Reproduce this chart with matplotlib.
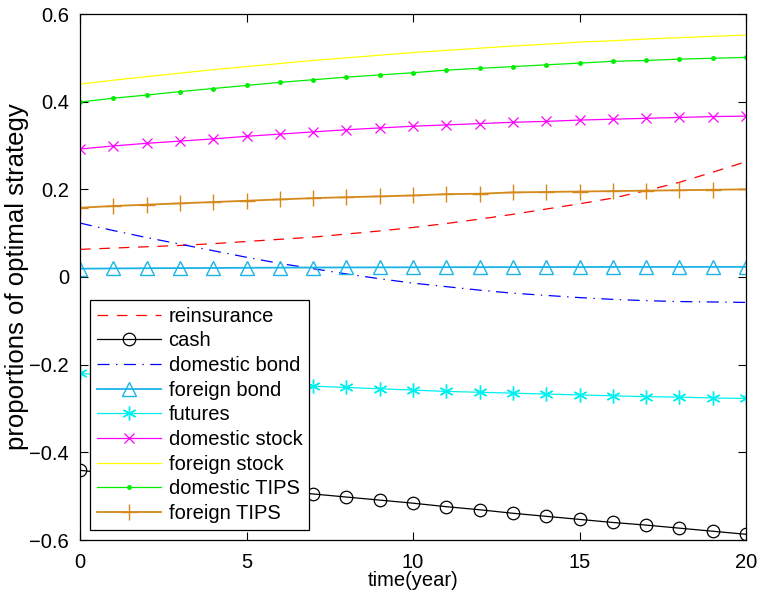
import matplotlib
matplotlib.use("Agg")
import matplotlib.pyplot as plt
from matplotlib import font_manager

names = {f.name for f in font_manager.fontManager.ttflist}
if 'Liberation Sans Narrow' in names:
    MAIN = ['Liberation Sans Narrow', 'DejaVu Sans']
    FS = 17
else:
    MAIN = ['Liberation Sans', 'DejaVu Sans']
    FS = 14.5
plt.rcParams['font.family'] = MAIN

t = list(range(21))
reinsurance = [0.063, 0.066, 0.069, 0.072, 0.076, 0.081, 0.086, 0.091, 0.098, 0.105, 0.113,
               0.122, 0.132, 0.143, 0.155, 0.167, 0.180, 0.197, 0.216, 0.239, 0.263]
cash = [-0.441, -0.449, -0.457, -0.465, -0.473, -0.480, -0.488, -0.495, -0.502, -0.509, -0.516,
        -0.524, -0.531, -0.539, -0.546, -0.553, -0.560, -0.566, -0.573, -0.580, -0.587]
domestic_bond = [0.123, 0.106, 0.090, 0.075, 0.060, 0.045, 0.031, 0.019, 0.007, -0.004, -0.014,
                 -0.022, -0.030, -0.037, -0.042, -0.047, -0.051, -0.054, -0.056, -0.057, -0.058]
foreign_bond = [0.019, 0.0195, 0.020, 0.0203, 0.0206, 0.021, 0.0213, 0.0216, 0.0218, 0.022, 0.0222,
                0.0224, 0.0225, 0.0226, 0.0227, 0.0228, 0.0229, 0.023, 0.023, 0.0231, 0.0231]
futures = [-0.220, -0.225, -0.229, -0.233, -0.237, -0.241, -0.245, -0.249, -0.252, -0.255, -0.258,
           -0.261, -0.263, -0.265, -0.267, -0.269, -0.271, -0.273, -0.274, -0.276, -0.277]
domestic_stock = [0.292, 0.299, 0.305, 0.310, 0.315, 0.321, 0.326, 0.331, 0.336, 0.340, 0.344,
                  0.347, 0.350, 0.353, 0.355, 0.358, 0.360, 0.362, 0.364, 0.366, 0.367]
foreign_stock = [0.440, 0.449, 0.457, 0.465, 0.473, 0.480, 0.487, 0.494, 0.500, 0.506, 0.512,
                 0.517, 0.522, 0.527, 0.531, 0.536, 0.539, 0.543, 0.546, 0.549, 0.552]
domestic_tips = [0.399, 0.408, 0.415, 0.423, 0.430, 0.437, 0.444, 0.450, 0.456, 0.461, 0.466,
                 0.472, 0.476, 0.480, 0.484, 0.488, 0.492, 0.494, 0.497, 0.499, 0.501]
foreign_tips = [0.158, 0.162, 0.165, 0.168, 0.171, 0.174, 0.177, 0.180, 0.182, 0.184, 0.186,
                0.189, 0.190, 0.193, 0.194, 0.195, 0.196, 0.197, 0.198, 0.199, 0.200]

xticks = [0, 5, 10, 15, 20]
yticks = [-0.6, -0.4, -0.2, 0, 0.2, 0.4, 0.6]
yticklabels = ['\u22120.6', '\u22120.4', '\u22120.2', '0', '0.2', '0.4', '0.6']

fig = plt.figure(figsize=(7.6, 5.96), dpi=100)
ax = fig.add_axes([80/760, 56/596, 666/760, 526/596])

lw = 0.9
asterisk = (6, 2, 0)
ax.plot(t, reinsurance, color='#ff0000', linestyle=(0, (8.5, 7)), lw=lw, label='reinsurance')
ax.plot(t, cash, color='black', marker='o', mfc='none', ms=9, mew=0.9, lw=lw, label='cash')
ax.plot(t, domestic_bond, color='#0000ff', linestyle=(0, (9.6, 5.2, 1.1, 5.2)), lw=lw, label='domestic bond')
ax.plot(t, foreign_bond, color='#1ab4e6', marker='^', mfc='none', ms=10, mew=1.0, lw=1.3, label='foreign bond')
ax.plot(t, futures, color='#00f0f0', marker=asterisk, ms=10, mew=1.0, lw=lw, label='futures')
ax.plot(t, domestic_stock, color='#ff00ff', marker='x', ms=7, mew=0.9, lw=lw, label='domestic stock')
ax.plot(t, foreign_stock, color='#ffff00', lw=lw, label='foreign stock')
ax.plot(t, domestic_tips, color='#00ee00', marker='.', ms=5, lw=lw, label='domestic TIPS')
ax.plot(t, foreign_tips, color='#d4891a', marker='+', ms=12, mew=1.0, lw=1.3, label='foreign TIPS')

ax.set_xlim(0, 20)
ax.set_ylim(-0.6, 0.6)
ax.set_xticks(xticks)
ax.set_xticklabels([str(v) for v in xticks])
ax.set_yticks(yticks)
ax.set_yticklabels(yticklabels)
ax.tick_params(direction='in', top=True, right=True, length=6, width=0.8, labelsize=FS)
ax.tick_params(axis='x', pad=9)
ax.tick_params(axis='y', pad=8)
for s in ax.spines.values():
    s.set_linewidth(0.9)

ax.set_xlabel('time(year)', fontsize=FS, labelpad=0)
ax.set_ylabel('proportions of optimal strategy', fontsize=18.5, labelpad=0,
              family=['Liberation Sans', 'DejaVu Sans'])

leg = ax.legend(loc='lower left', bbox_to_anchor=(0.015, 0.019), borderaxespad=0,
                fontsize=FS, numpoints=1, handlelength=3.2, handletextpad=0.35,
                labelspacing=0.28, borderpad=0.35, fancybox=False, framealpha=1,
                edgecolor='black')
leg.get_frame().set_linewidth(0.9)

fig.savefig('out.png', dpi=100)
